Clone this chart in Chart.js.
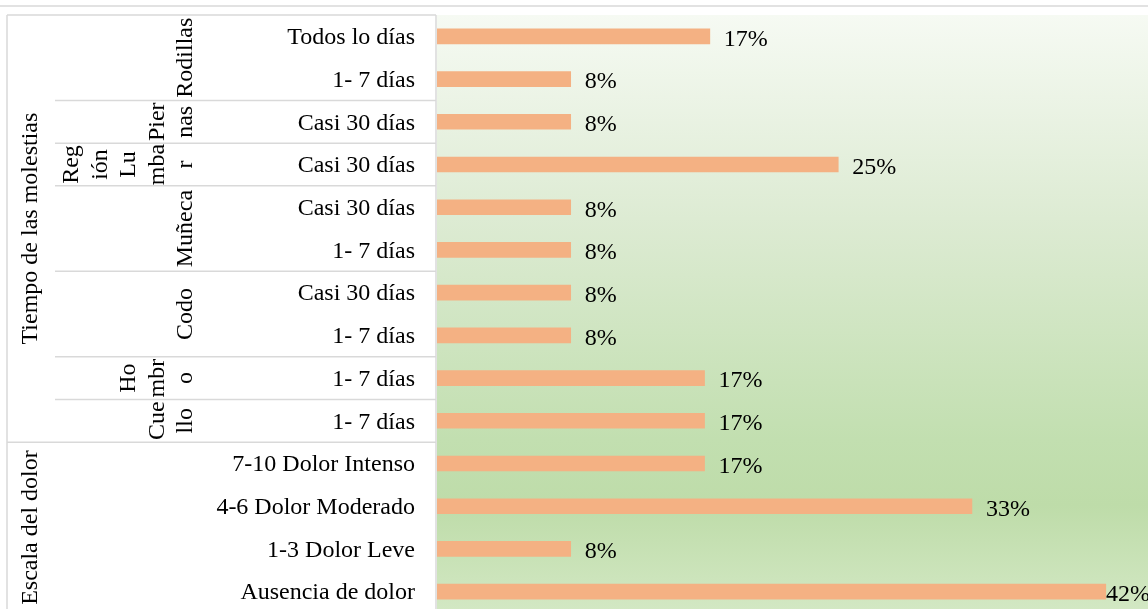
<!DOCTYPE html>
<html>
<head>
<meta charset="utf-8">
<script src="https://cdn.jsdelivr.net/npm/chart.js@4"></script>
<style>
  html, body { margin: 0; padding: 0; overflow: hidden; background: #fff; }
  canvas { display: block; }
</style>
</head>
<body>
<canvas id="chart" width="1148" height="613"></canvas>
<script>
// leaf categories, top to bottom
const leafLabels = [
  "Todos lo días", "1- 7 días", "Casi 30 días", "Casi 30 días", "Casi 30 días",
  "1- 7 días", "Casi 30 días", "1- 7 días", "1- 7 días", "1- 7 días",
  "7-10 Dolor Intenso", "4-6 Dolor Moderado", "1-3 Dolor Leve", "Ausencia de dolor"
];
const values = [17, 8.33, 8.33, 25, 8.33, 8.33, 8.33, 8.33, 16.67, 16.67, 16.67, 33.33, 8.33, 41.67];

// second level (body region), wrapped the way the original shows it
const regionLines = [["Rodillas"], ["Pier", "nas"], ["Reg", "ión", "Lu", "mba", "r"], ["Muñeca"], ["Codo"], ["Ho", "mbr", "o"], ["Cue", "llo"]];
const regionSpans = [2, 1, 1, 2, 2, 1, 1];

// top level
const groupNames = ["Tiempo de las molestias", "Escala del dolor"];
const groupSpans = [10, 4];

const FONT = "24px 'Liberation Serif', 'Times New Roman', serif";
const LINE = "#d9d9d9";

const backdrop = {
  id: "backdrop",
  beforeDraw(chart) {
    const { ctx, chartArea: a } = chart;
    const g = ctx.createLinearGradient(0, a.top, 0, a.bottom);
    g.addColorStop(0, "#f6faf3");
    g.addColorStop(0.34, "#ddebd3");
    g.addColorStop(0.71, "#c2dfb0");
    g.addColorStop(0.82, "#bedca9");
    g.addColorStop(1, "#d3e8c4");
    ctx.save();
    ctx.fillStyle = g;
    ctx.fillRect(a.left, a.top, a.right - a.left, a.bottom - a.top);
    ctx.restore();
  }
};

const labelTable = {
  id: "labelTable",
  afterDraw(chart) {
    const { ctx, chartArea: a } = chart;
    const y = chart.scales.y;
    const rowH = Math.abs(y.getPixelForValue(1) - y.getPixelForValue(0));
    const edge = i => y.getPixelForValue(i) - rowH / 2; // top edge of row i
    const tableLeft = 7, tableRight = 436, regionLeft = 55;

    ctx.save();
    ctx.strokeStyle = LINE;
    ctx.lineWidth = 1.5;
    const line = (x1, y1, x2, y2) => {
      ctx.beginPath(); ctx.moveTo(x1, y1); ctx.lineTo(x2, y2); ctx.stroke();
    };
    // outer frame
    line(0, 6, chart.width, 6);
    line(tableLeft, a.top, tableRight, a.top);
    line(tableLeft, a.top, tableLeft, a.bottom);
    line(tableRight, a.top, tableRight, a.bottom);

    // region separators
    let r = 0;
    regionSpans.forEach((s, k) => {
      r += s;
      if (k < regionSpans.length - 1) line(regionLeft, edge(r), tableRight, edge(r));
    });
    // group separator
    line(tableLeft, edge(groupSpans[0]), tableRight, edge(groupSpans[0]));

    ctx.fillStyle = "#000";
    ctx.font = FONT;

    // leaf labels
    ctx.textAlign = "right";
    ctx.textBaseline = "middle";
    leafLabels.forEach((t, i) => ctx.fillText(t, 415, y.getPixelForValue(i) + 1.5));

    // rotated region labels
    ctx.textAlign = "center";
    r = 0;
    regionLines.forEach((lines, k) => {
      const mid = (edge(r) + edge(r + regionSpans[k])) / 2;
      lines.forEach((t, j) => {
        const x = 186 - (lines.length - 1 - j) * 28.5;
        ctx.save();
        ctx.translate(x, mid);
        ctx.rotate(-Math.PI / 2);
        ctx.fillText(t, 0, 0);
        ctx.restore();
      });
      r += regionSpans[k];
    });

    // rotated group labels
    r = 0;
    groupNames.forEach((t, k) => {
      const mid = (edge(r) + Math.min(edge(r + groupSpans[k]), a.bottom)) / 2;
      ctx.save();
      ctx.translate(31, mid);
      ctx.rotate(-Math.PI / 2);
      ctx.fillText(t, 0, 0);
      ctx.restore();
      r += groupSpans[k];
    });

    // value labels
    ctx.textAlign = "left";
    const meta = chart.getDatasetMeta(0);
    meta.data.forEach((bar, i) => {
      const txt = Math.round(values[i]) + "%";
      const w = ctx.measureText(txt).width;
      const x = Math.min(bar.x + 14, a.right - w + 2);
      ctx.fillText(txt, x, bar.y + 3);
    });
    ctx.restore();
  }
};

new Chart(document.getElementById("chart"), {
  type: "bar",
  data: {
    labels: leafLabels,
    datasets: [{
      data: values,
      backgroundColor: "#f4b183",
      borderWidth: 0,
      barThickness: 15
    }]
  },
  options: {
    indexAxis: "y",
    responsive: false,
    animation: false,
    devicePixelRatio: 1,
    layout: { padding: { left: 437, top: 15, right: 0, bottom: 0 } },
    scales: {
      x: { display: false, min: 0, max: 44.3 },
      y: { display: false }
    },
    plugins: { legend: { display: false }, tooltip: { enabled: false } }
  },
  plugins: [backdrop, labelTable]
});
</script>
</body>
</html>
